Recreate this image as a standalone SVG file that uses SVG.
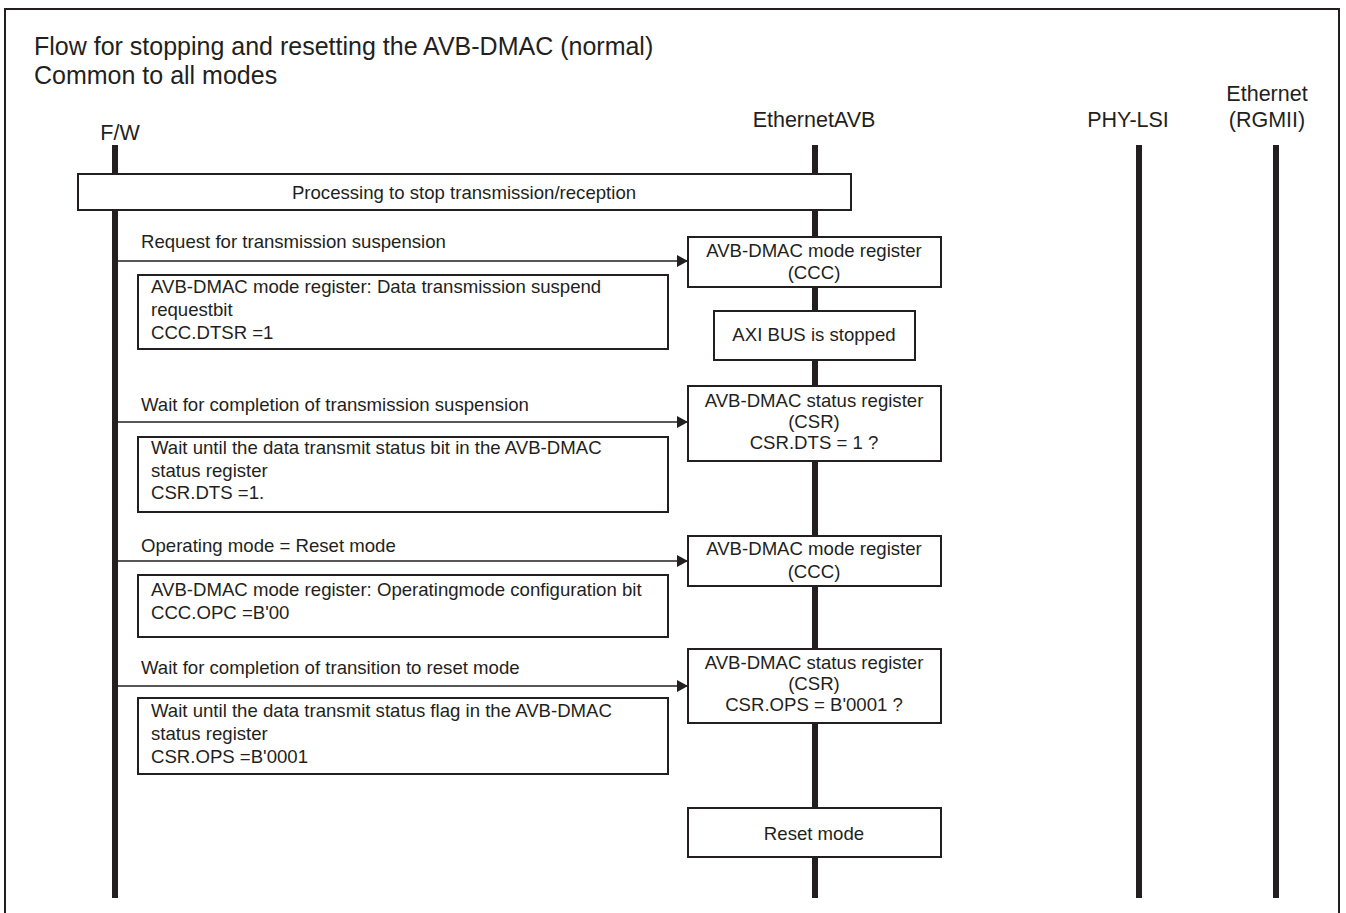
<svg xmlns="http://www.w3.org/2000/svg" width="1346" height="913" viewBox="0 0 1346 913">
<defs>
<style>
text{font-family:"Liberation Sans",Arial,sans-serif;fill:#231f20}
.title{font-size:25px}
.lbl{font-size:21.5px;text-anchor:middle}
.t{font-size:18.6px}
.c{font-size:18.6px;text-anchor:middle}
.box{fill:#fff;stroke:#231f20;stroke-width:2}
.life{stroke:#231f20;stroke-width:6}
.msg{stroke:#231f20;stroke-width:1.3;fill:none}
</style>
<marker id="ah" markerWidth="11" markerHeight="12" refX="11" refY="6" orient="auto" markerUnits="userSpaceOnUse">
<path d="M0,0 L11,6 L0,12 Z" fill="#231f20"/>
</marker>
</defs>
<rect width="1346" height="913" fill="#fff"/>
<path d="M5,913 V9 H1339 V913" fill="none" stroke="#231f20" stroke-width="2"/>
<g id="title">
<text class="title" x="34" y="55">Flow for stopping and resetting the AVB-DMAC (normal)</text>
<text class="title" x="34" y="84">Common to all modes</text>
</g>
<g id="lifelines">
<g id="fw"><text class="lbl" x="120" y="140">F/W</text><line class="life" x1="115" y1="145" x2="115" y2="898"/></g>
<g id="eavb"><text class="lbl" x="814" y="127">EthernetAVB</text><line class="life" x1="815" y1="145" x2="815" y2="898"/></g>
<g id="phy"><text class="lbl" x="1128" y="127">PHY-LSI</text><line class="life" x1="1139" y1="145" x2="1139" y2="898"/></g>
<g id="eth"><text class="lbl" x="1267" y="101">Ethernet</text><text class="lbl" x="1267" y="127">(RGMII)</text><line class="life" x1="1276" y1="145" x2="1276" y2="898"/></g>
</g>
<g id="processing"><rect class="box" x="78" y="174" width="773" height="36"/><text class="c" x="464" y="199">Processing to stop transmission/reception</text></g>
<g id="connectors">
<line class="msg" x1="118" y1="261" x2="688" y2="261" marker-end="url(#ah)"/>
<line class="msg" x1="118" y1="422" x2="688" y2="422" marker-end="url(#ah)"/>
<line class="msg" x1="118" y1="561" x2="688" y2="561" marker-end="url(#ah)"/>
<line class="msg" x1="118" y1="686" x2="688" y2="686" marker-end="url(#ah)"/>
</g>
<g id="msg-labels">
<text class="t" x="141" y="248">Request for transmission suspension</text>
<text class="t" x="141" y="411">Wait for completion of transmission suspension</text>
<text class="t" x="141" y="552">Operating mode = Reset mode</text>
<text class="t" x="141" y="674">Wait for completion of transition to reset mode</text>
</g>
<g id="note1"><rect class="box" x="138" y="275" width="530" height="74"/>
<text class="t" x="151" y="293">AVB-DMAC mode register: Data transmission suspend</text>
<text class="t" x="151" y="316">requestbit</text>
<text class="t" x="151" y="339">CCC.DTSR =1</text></g>
<g id="note2"><rect class="box" x="138" y="437" width="530" height="75"/>
<text class="t" x="151" y="454">Wait until the data transmit status bit in the AVB-DMAC</text>
<text class="t" x="151" y="477">status register</text>
<text class="t" x="151" y="499">CSR.DTS =1.</text></g>
<g id="note3"><rect class="box" x="138" y="575" width="530" height="62"/>
<text class="t" x="151" y="596">AVB-DMAC mode register: Operatingmode configuration bit</text>
<text class="t" x="151" y="619">CCC.OPC =B'00</text></g>
<g id="note4"><rect class="box" x="138" y="698" width="530" height="76"/>
<text class="t" x="151" y="717">Wait until the data transmit status flag in the AVB-DMAC</text>
<text class="t" x="151" y="740">status register</text>
<text class="t" x="151" y="763">CSR.OPS =B'0001</text></g>
<g id="ccc1"><rect class="box" x="688" y="237" width="253" height="50"/>
<text class="c" x="814" y="257">AVB-DMAC mode register</text><text class="c" x="814" y="279">(CCC)</text></g>
<g id="axi"><rect class="box" x="714" y="311" width="201" height="49"/>
<text class="c" x="814" y="341">AXI BUS is stopped</text></g>
<g id="csr1"><rect class="box" x="688" y="386" width="253" height="75"/>
<text class="c" x="814" y="407">AVB-DMAC status register</text><text class="c" x="814" y="428">(CSR)</text><text class="c" x="814" y="449">CSR.DTS = 1 ?</text></g>
<g id="ccc2"><rect class="box" x="688" y="536" width="253" height="50"/>
<text class="c" x="814" y="555">AVB-DMAC mode register</text><text class="c" x="814" y="578">(CCC)</text></g>
<g id="csr2"><rect class="box" x="688" y="649" width="253" height="74"/>
<text class="c" x="814" y="669">AVB-DMAC status register</text><text class="c" x="814" y="690">(CSR)</text><text class="c" x="814" y="711">CSR.OPS = B'0001 ?</text></g>
<g id="reset"><rect class="box" x="688" y="808" width="253" height="49"/>
<text class="c" x="814" y="840">Reset mode</text></g>
</svg>
